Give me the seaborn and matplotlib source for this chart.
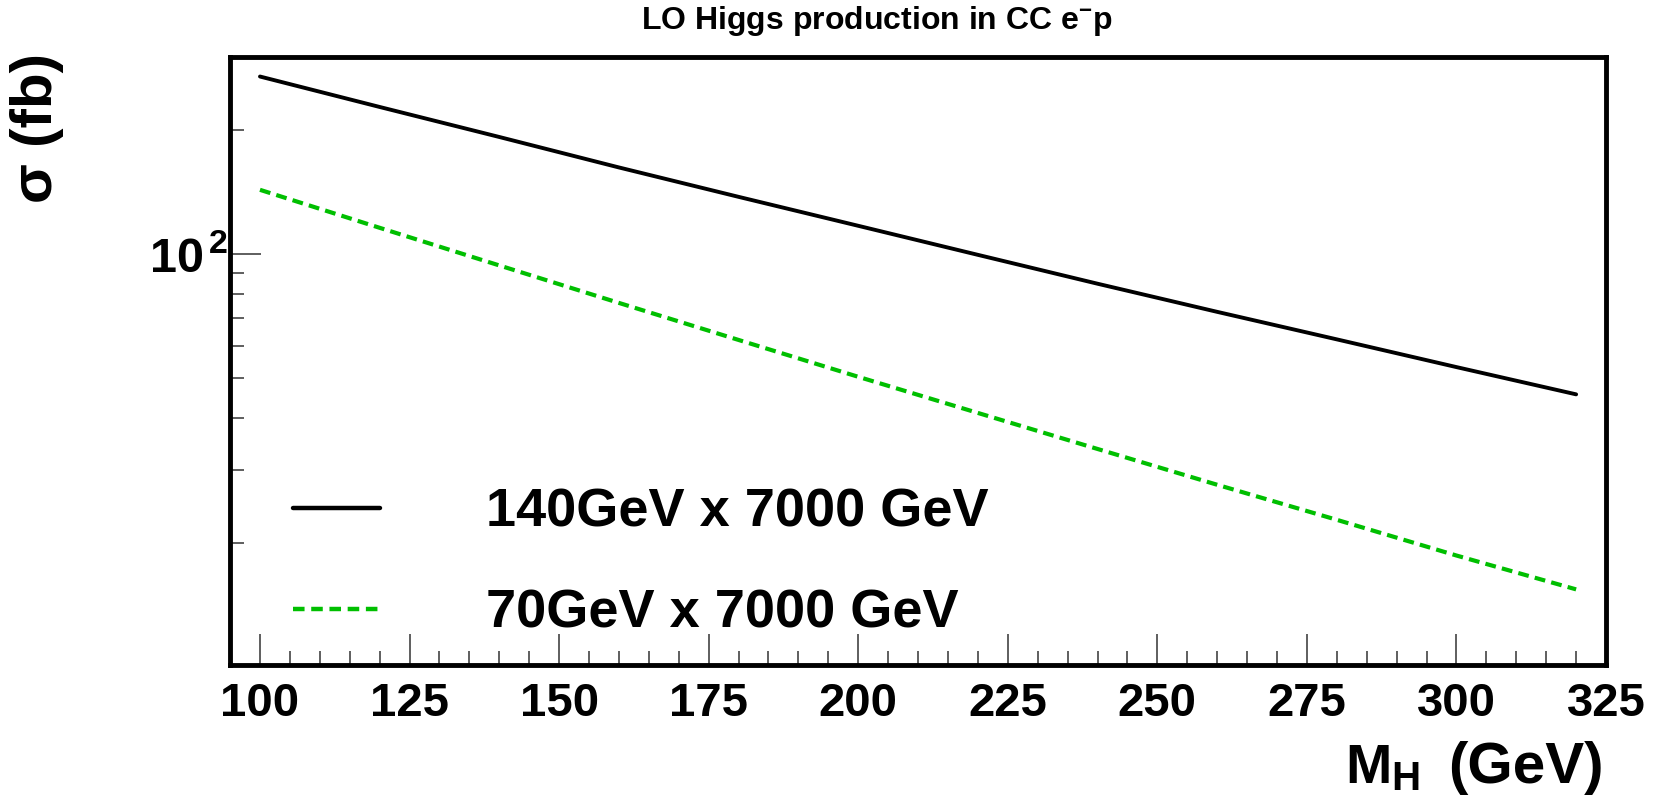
import numpy as np
import pandas as pd

import matplotlib as mpl
import matplotlib.pyplot as plt
from matplotlib.ticker import FixedLocator, FixedFormatter, NullFormatter

import seaborn as sns

# -----------------------
# 0) data (read off the plot)
# -----------------------
mh_gev = [100, 120, 140, 160, 180, 200, 220, 240, 260, 280, 300, 320]

sigma_140x7000 = [269.0, 227.0, 192.0, 162.0, 137.5, 117.0, 99.5, 84.7, 72.4, 62.1, 53.2, 45.7]
sigma_70x7000 = [143.0, 115.7, 93.8, 76.1, 61.9, 50.4, 41.2, 33.7, 27.6, 22.7, 18.6, 15.4]

label_140 = "140GeV x 7000 GeV"
label_70 = "70GeV x 7000 GeV"

x_ticks = [100, 125, 150, 175, 200, 225, 250, 275, 300, 325]
x_minor = [v for v in range(100, 326, 5) if v % 25 != 0]
y_minor = [20, 30, 40, 50, 60, 70, 80, 90, 200]

GREEN = "#00bf00"
W, H = 1654, 799  # px, for placing the ROOT-style titles


# -----------------------
# 1) style
# -----------------------
def setup_style():
    sns.set_theme(style="white")
    mpl.rcParams["font.family"] = ["Liberation Sans", "DejaVu Sans"]
    mpl.rcParams["mathtext.fontset"] = "custom"
    mpl.rcParams["mathtext.rm"] = "Liberation Sans"
    mpl.rcParams["mathtext.bf"] = "Liberation Sans:bold"
    mpl.rcParams["mathtext.it"] = "Liberation Sans:italic"
    mpl.rcParams["axes.unicode_minus"] = False
    mpl.rcParams["text.color"] = "black"
    mpl.rcParams["axes.labelcolor"] = "black"


def px(x, y):
    # pixel (from top-left) -> figure fraction
    return x / W, 1 - y / H


# -----------------------
# 2) plot
# -----------------------
def draw():
    fig = plt.figure(figsize=(16.54, 7.99), dpi=100)
    ax = fig.add_axes([0.1391, 0.1677, 0.8319, 0.761])

    df = pd.DataFrame({
        "mh": mh_gev * 2,
        "sigma": sigma_140x7000 + sigma_70x7000,
        "beam": [label_140] * len(mh_gev) + [label_70] * len(mh_gev),
    })

    sns.lineplot(data=df[df["beam"] == label_140], x="mh", y="sigma",
                 color="black", linewidth=2.8, label=label_140, ax=ax)
    sns.lineplot(data=df[df["beam"] == label_70], x="mh", y="sigma",
                 color=GREEN, linewidth=3.0, linestyle=(0, (2.6, 1.5)),
                 label=label_70, ax=ax)

    ax.set_yscale("log")
    ax.set_xlim(95, 325)
    ax.set_ylim(10.1, 300)

    # ticks, ROOT-like (inside, bottom/left only)
    ax.xaxis.set_major_locator(FixedLocator(x_ticks))
    ax.xaxis.set_minor_locator(FixedLocator(x_minor))
    ax.yaxis.set_major_locator(FixedLocator([100]))
    ax.yaxis.set_major_formatter(FixedFormatter([r"$\mathbf{10}^{\,\mathbf{2}}$"]))
    ax.yaxis.set_minor_locator(FixedLocator(y_minor))
    ax.yaxis.set_minor_formatter(NullFormatter())

    ax.tick_params(axis="both", which="both", direction="in", colors="#333333",
                   labelcolor="black", width=1.1, bottom=True, left=True,
                   top=False, right=False)
    ax.tick_params(axis="both", which="major", length=22)
    ax.tick_params(axis="both", which="minor", length=10)
    ax.tick_params(axis="x", which="major", pad=12, labelsize=34)
    ax.tick_params(axis="y", which="major", pad=2, labelsize=35)
    for lab in ax.get_xticklabels() + ax.get_yticklabels():
        lab.set_fontweight("bold")

    for sp in ax.spines.values():
        sp.set_linewidth(3.5)
        sp.set_color("black")

    ax.set_xlabel("")
    ax.set_ylabel("")

    # axis titles (ROOT puts them at the ends)
    fig.text(*px(1345, 783), "M", ha="left", va="baseline",
             fontsize=40, fontweight="bold")
    fig.text(*px(1391, 790), "H", ha="left", va="baseline",
             fontsize=29, fontweight="bold")
    fig.text(*px(1604, 783), "(GeV)", ha="right", va="baseline",
             fontsize=42, fontweight="bold")
    fig.text(*px(37, 53), "σ (fb)", rotation=90, ha="center",
             va="top", fontsize=42, fontweight="bold")

    fig.text(0.53, 1 - 21 / H, r"LO Higgs production in CC e$^{\mathbf{-}}$p",
             ha="center", va="center", fontsize=23, fontweight="bold")

    leg = ax.legend(loc="center left", bbox_to_anchor=(0.1771, 0.2951),
                    bbox_transform=fig.transFigure, frameon=False,
                    borderpad=0, borderaxespad=0, handlelength=1.6,
                    handletextpad=1.97, labelspacing=0.95,
                    prop={"size": 39, "weight": "bold"})
    for h in leg.get_lines():
        h.set_linewidth(3.2)

    fig.savefig("out.png", dpi=100)
    plt.close(fig)


def main():
    setup_style()
    draw()


if __name__ == "__main__":
    main()
